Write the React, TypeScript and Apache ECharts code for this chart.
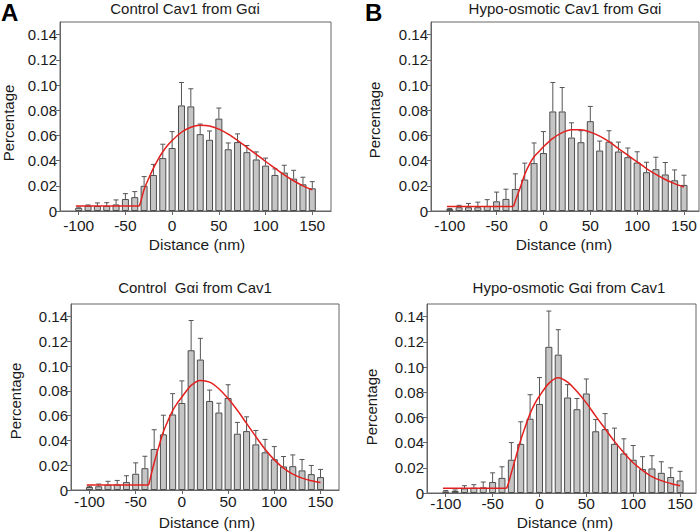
import React, { useEffect, useRef } from "react";
import * as echarts from "echarts";

const distances = [-100, -90, -80, -70, -60, -50, -40, -30, -20, -10, 0, 10, 20, 30, 40, 50, 60, 70, 80, 90, 100, 110, 120, 130, 140, 150];
const xTicks = [-100, -50, 0, 50, 100, 150];
const yTicks = [0, 0.02, 0.04, 0.06, 0.08, 0.1, 0.12, 0.14];

const titles = ["Control Cav1 from G\u03b1i", "Hypo-osmotic Cav1 from G\u03b1i", "Control  G\u03b1i from Cav1", "Hypo-osmotic G\u03b1i from Cav1"];

const A_mean = [0.0025, 0.0042, 0.004, 0.004, 0.0052, 0.0095, 0.011, 0.02, 0.0286, 0.042, 0.05, 0.0838, 0.083, 0.061, 0.0565, 0.0733, 0.049, 0.0547, 0.0467, 0.0409, 0.036, 0.0286, 0.0305, 0.0257, 0.0212, 0.018];
const A_upper = [0.0031, 0.0048, 0.0064, 0.0066, 0.0088, 0.0138, 0.0154, 0.0273, 0.037, 0.053, 0.063, 0.102, 0.097, 0.069, 0.0635, 0.0817, 0.054, 0.0612, 0.052, 0.0469, 0.042, 0.0334, 0.0363, 0.0323, 0.0268, 0.0233];
const A_baseline = [[-103, 0.004], [-35, 0.004]];
const A_fit = [[-35, 0.004], [-33, 0.009], [-30, 0.017], [-25, 0.026], [-20, 0.034], [-15, 0.041], [-10, 0.047], [-5, 0.052], [0, 0.056], [10, 0.0625], [20, 0.0665], [30, 0.068], [40, 0.0675], [50, 0.065], [60, 0.061], [70, 0.056], [80, 0.0505], [90, 0.045], [100, 0.0393], [110, 0.034], [120, 0.0287], [130, 0.024], [140, 0.02], [150, 0.0168]];

const B_mean = [0.0016, 0.003, 0.003, 0.003, 0.004, 0.0077, 0.0096, 0.0175, 0.025, 0.038, 0.046, 0.079, 0.079, 0.0583, 0.0546, 0.0713, 0.048, 0.055, 0.0472, 0.0427, 0.0385, 0.0308, 0.0332, 0.029, 0.0244, 0.0207];
const B_upper = [0.002, 0.0045, 0.006, 0.007, 0.009, 0.015, 0.0173, 0.0295, 0.038, 0.054, 0.063, 0.102, 0.098, 0.07, 0.0637, 0.083, 0.0555, 0.0637, 0.0547, 0.05, 0.047, 0.0387, 0.0427, 0.0385, 0.0326, 0.0284];
const B_baseline = [[-103, 0.0035], [-32, 0.0035]];
const B_fit = [[-32, 0.0035], [-30, 0.008], [-27, 0.014], [-25, 0.018], [-20, 0.029], [-15, 0.037], [-10, 0.043], [-5, 0.047], [0, 0.051], [10, 0.0576], [20, 0.0622], [30, 0.0645], [40, 0.0645], [50, 0.0626], [60, 0.0594], [70, 0.055], [80, 0.0496], [90, 0.0443], [100, 0.039], [110, 0.0337], [120, 0.029], [130, 0.025], [140, 0.0217], [150, 0.019]];

const C_mean = [0.0024, 0.003, 0.0043, 0.0045, 0.0064, 0.0131, 0.0176, 0.0331, 0.0449, 0.0609, 0.0702, 0.1127, 0.1052, 0.0718, 0.0625, 0.0742, 0.0454, 0.0475, 0.0368, 0.0304, 0.0248, 0.019, 0.0192, 0.0158, 0.0128, 0.0104];
const C_upper = [0.003, 0.0048, 0.007, 0.0077, 0.0115, 0.0219, 0.0272, 0.0486, 0.0603, 0.0777, 0.088, 0.1367, 0.1223, 0.0806, 0.07, 0.0849, 0.0545, 0.059, 0.048, 0.0408, 0.035, 0.027, 0.0283, 0.0246, 0.0198, 0.0166];
const C_baseline = [[-103, 0.004], [-36, 0.004]];
const C_fit = [[-36, 0.004], [-34, 0.01], [-30, 0.022], [-25, 0.035], [-20, 0.047], [-15, 0.056], [-10, 0.064], [-5, 0.07], [0, 0.075], [10, 0.0844], [20, 0.0884], [30, 0.087], [40, 0.0817], [50, 0.0737], [60, 0.0643], [70, 0.0537], [80, 0.043], [90, 0.0328], [100, 0.0243], [110, 0.0176], [120, 0.0128], [130, 0.0096], [140, 0.0075], [150, 0.0061]];

const D_mean = [0.0013, 0.0016, 0.0037, 0.0042, 0.0045, 0.0087, 0.012, 0.0264, 0.039, 0.059, 0.0707, 0.116, 0.1098, 0.0758, 0.0665, 0.079, 0.049, 0.0507, 0.039, 0.0314, 0.0264, 0.019, 0.0195, 0.016, 0.0127, 0.01];
const D_upper = [0.002, 0.0024, 0.0058, 0.0066, 0.0087, 0.016, 0.0208, 0.04, 0.0565, 0.078, 0.0916, 0.1444, 0.1296, 0.086, 0.075, 0.0905, 0.0583, 0.063, 0.0515, 0.043, 0.0377, 0.0288, 0.0296, 0.0248, 0.02, 0.0172];
const D_baseline = [[-103, 0.0037], [-35, 0.0037]];
const D_fit = [[-35, 0.0037], [-33, 0.008], [-30, 0.016], [-25, 0.029], [-20, 0.042], [-15, 0.053], [-10, 0.063], [-5, 0.071], [0, 0.077], [10, 0.087], [20, 0.0915], [30, 0.088], [40, 0.0805], [50, 0.0715], [60, 0.061], [70, 0.051], [80, 0.041], [90, 0.032], [100, 0.024], [110, 0.018], [120, 0.013], [130, 0.0098], [140, 0.0076], [150, 0.0058]];

const panels = [
  { mean: A_mean, upper: A_upper, base: A_baseline, fit: A_fit },
  { mean: B_mean, upper: B_upper, base: B_baseline, fit: B_fit },
  { mean: C_mean, upper: C_upper, base: C_baseline, fit: C_fit },
  { mean: D_mean, upper: D_upper, base: D_baseline, fit: D_fit },
];

// layout
const grids = [
  { left: 60, top: 22, width: 271, height: 189, xMax: 170, labelMargin: 7 },
  { left: 431, top: 22, width: 268, height: 189, xMax: 166, labelMargin: 7 },
  { left: 71, top: 304, width: 268, height: 186, xMax: 170, labelMargin: 4 },
  { left: 427, top: 304, width: 269, height: 189, xMax: 167, labelMargin: 3 },
];

const FONT = "'Liberation Sans', Arial, Helvetica, sans-serif";
const AXIS_COLOR = "#666";
const RED = "#e3201e";

export default function App() {
  const ref = useRef<HTMLDivElement>(null);

  useEffect(() => {
    document.body.style.margin = "0";
    if (!ref.current) return;
    const chart = echarts.init(ref.current, null, { renderer: "svg" });

    const gridOpt = grids.map((g) => ({
      left: g.left,
      top: g.top,
      width: g.width,
      height: g.height,
      show: true,
      borderColor: AXIS_COLOR,
      borderWidth: 1,
      backgroundColor: "transparent",
    }));

    const xAxes = grids.map((g, i) => ({
      type: "value",
      gridIndex: i,
      min: -120,
      max: g.xMax,
      axisLine: { show: true, onZero: false, lineStyle: { color: AXIS_COLOR, width: 1 } },
      axisTick: { show: true, length: 4, inside: false, customValues: xTicks, lineStyle: { color: AXIS_COLOR } },
      axisLabel: { customValues: xTicks, fontSize: 15.5, color: "#1a1a1a", margin: g.labelMargin, fontFamily: FONT, lineHeight: 15 },
      splitLine: { show: false },
    }));

    const yAxes = grids.map((g, i) => ({
      type: "value",
      gridIndex: i,
      min: 0,
      max: 0.15,
      axisLine: { show: true, onZero: false, lineStyle: { color: AXIS_COLOR, width: 1 } },
      axisTick: { show: true, length: 4, inside: false, customValues: yTicks, lineStyle: { color: AXIS_COLOR } },
      axisLabel: {
        customValues: yTicks,
        fontSize: 15,
        color: "#1a1a1a",
        margin: 3,
        fontFamily: FONT,
        formatter: (v: number) => (Math.abs(v) < 1e-9 ? "0" : v.toFixed(2)),
      },
      splitLine: { show: false },
    }));

    const series: any[] = [];
    panels.forEach((p, i) => {
      series.push({
        type: "bar",
        xAxisIndex: i,
        yAxisIndex: i,
        data: distances.map((d, j) => [d, p.mean[j]]),
        barWidth: 7,
        itemStyle: { color: "#c5c5c5", borderColor: "#4d4d4d", borderWidth: 1 },
        z: 2,
      });
      series.push({
        type: "custom",
        xAxisIndex: i,
        yAxisIndex: i,
        data: distances.map((d, j) => [d, p.mean[j], p.upper[j]]),
        renderItem: (params: any, api: any) => {
          const x = api.value(0);
          const top = api.coord([x, api.value(1)]);
          const up = api.coord([x, api.value(2)]);
          const style = { stroke: "#555", lineWidth: 1 };
          return {
            type: "group",
            children: [
              { type: "line", shape: { x1: top[0], y1: top[1], x2: up[0], y2: up[1] }, style },
              { type: "line", shape: { x1: up[0] - 2.5, y1: up[1], x2: up[0] + 2.5, y2: up[1] }, style },
            ],
          };
        },
        z: 3,
      });
      series.push({
        type: "line",
        xAxisIndex: i,
        yAxisIndex: i,
        data: p.base,
        showSymbol: false,
        symbol: "none",
        lineStyle: { color: RED, width: 1.5 },
        z: 5,
      });
      series.push({
        type: "line",
        xAxisIndex: i,
        yAxisIndex: i,
        data: p.fit,
        showSymbol: false,
        symbol: "none",
        smooth: 0.3,
        lineStyle: { color: RED, width: 1.5 },
        z: 5,
      });
    });

    const textStyle = (extra: any) => ({ fontFamily: FONT, fill: "#1a1a1a", ...extra });

    const graphic: any[] = [
      { type: "text", x: 1, y: 12, style: textStyle({ text: "A", fontSize: 24, lineHeight: 24, fontWeight: "bold", fill: "#000", verticalAlign: "middle" }) },
      { type: "text", x: 365, y: 12, style: textStyle({ text: "B", fontSize: 24, lineHeight: 24, fontWeight: "bold", fill: "#000", verticalAlign: "middle" }) },
      { type: "text", x: 185, y: 8, style: textStyle({ text: titles[0], fontSize: 15, align: "center", verticalAlign: "middle" }) },
      { type: "text", x: 565, y: 8, style: textStyle({ text: titles[1], fontSize: 15, align: "center", verticalAlign: "middle" }) },
      { type: "text", x: 195, y: 287, style: textStyle({ text: titles[2], fontSize: 15, align: "center", verticalAlign: "middle" }) },
      { type: "text", x: 569, y: 287, style: textStyle({ text: titles[3], fontSize: 15, align: "center", verticalAlign: "middle" }) },
      { type: "text", x: 197, y: 244, style: textStyle({ text: "Distance (nm)", fontSize: 15.5, align: "center", verticalAlign: "middle" }) },
      { type: "text", x: 564, y: 244, style: textStyle({ text: "Distance (nm)", fontSize: 15.5, align: "center", verticalAlign: "middle" }) },
      { type: "text", x: 207, y: 522, style: textStyle({ text: "Distance (nm)", fontSize: 15.5, align: "center", verticalAlign: "middle" }) },
      { type: "text", x: 565, y: 522, style: textStyle({ text: "Distance (nm)", fontSize: 15.5, align: "center", verticalAlign: "middle" }) },
      { type: "text", x: 8, y: 123, rotation: Math.PI / 2, style: textStyle({ text: "Percentage", fontSize: 15, align: "center", verticalAlign: "middle" }) },
      { type: "text", x: 374, y: 120, rotation: Math.PI / 2, style: textStyle({ text: "Percentage", fontSize: 15, align: "center", verticalAlign: "middle" }) },
      { type: "text", x: 15, y: 401, rotation: Math.PI / 2, style: textStyle({ text: "Percentage", fontSize: 15, align: "center", verticalAlign: "middle" }) },
      { type: "text", x: 371, y: 407, rotation: Math.PI / 2, style: textStyle({ text: "Percentage", fontSize: 15, align: "center", verticalAlign: "middle" }) },
    ];

    chart.setOption({
      animation: false,
      backgroundColor: "#fff",
      grid: gridOpt,
      xAxis: xAxes,
      yAxis: yAxes,
      series,
      graphic,
    });

    return () => chart.dispose();
  }, []);

  return <div ref={ref} style={{ width: 700, height: 531, position: "absolute", left: 0, top: 0 }} />;
}
